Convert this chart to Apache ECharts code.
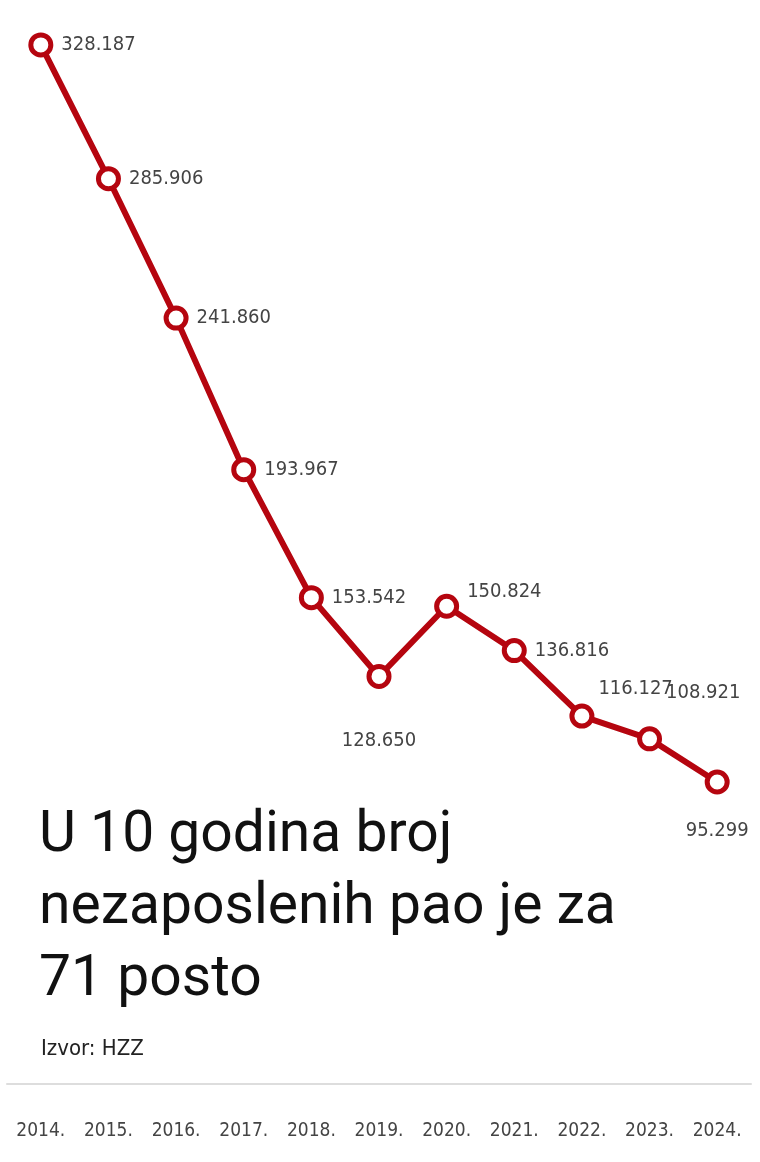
<!DOCTYPE html>
<html>
<head>
<meta charset="utf-8">
<script src="https://cdn.jsdelivr.net/npm/echarts@6/dist/echarts.min.js"></script>
<style>
html,body{margin:0;padding:0;background:#fff;}
#main{width:760px;height:1162px;}
</style>
</head>
<body>
<div id="main"></div>
<script>
var years = ['2014.', '2015.', '2016.', '2017.', '2018.', '2019.', '2020.', '2021.', '2022.', '2023.', '2024.'];
var unemployed = [328187, 285906, 241860, 193967, 153542, 128650, 150824, 136816, 116127, 108921, 95299];
var valueLabels = ['328.187', '285.906', '241.860', '193.967', '153.542', '128.650', '150.824', '136.816', '116.127', '108.921', '95.299'];

var narrow = "'Liberation Sans Narrow', 'DejaVu Sans Condensed', sans-serif";

// label placement per point
function labelFor(i) {
    var base = {show: true, formatter: valueLabels[i], color: '#444', fontSize: 20, fontFamily: narrow, position: 'right', distance: 8};
    if (i === 5) { base.position = 'bottom'; base.distance = 42; }
    if (i === 10) { base.position = 'bottom'; base.distance = 26; }
    if (i === 6) { base.offset = [0, -14]; }
    if (i === 8) { base.offset = [-4, -27]; }
    if (i === 9) { base.offset = [-4, -46]; }
    return base;
}

var myChart = echarts.init(document.getElementById('main'));
var option = {
    animation: false,
    grid: {left: 7, right: 9, top: 7.5, bottom: 78.4},
    title: [
        {
            text: 'U 10 godina broj\nnezaposlenih pao je za\n71 posto',
            left: 34, top: 796,
            textStyle: {fontSize: 57, fontWeight: 'normal', color: '#111', fontFamily: 'Roboto, sans-serif', lineHeight: 72}
        },
        {
            text: 'Izvor: HZZ',
            left: 36, top: 1033,
            textStyle: {fontSize: 22, fontWeight: 'normal', color: '#222', fontFamily: narrow}
        }
    ],
    xAxis: {
        type: 'category',
        data: years,
        boundaryGap: true,
        axisLine: {lineStyle: {color: '#ddd', width: 2}},
        axisTick: {show: false},
        axisLabel: {color: '#444', fontSize: 19, fontFamily: narrow, margin: 38, interval: 0}
    },
    yAxis: {
        type: 'value',
        min: 0,
        max: 340000,
        show: false,
        splitLine: {show: false}
    },
    series: [
        {
            type: 'line',
            data: unemployed.map(function (v, i) { return {value: v, label: labelFor(i)}; }),
            lineStyle: {color: '#b5050f', width: 6},
            symbol: 'circle',
            symbolSize: 20,
            itemStyle: {color: '#fff', borderColor: '#b5050f', borderWidth: 5},
            z: 3
        }
    ]
};
myChart.setOption(option);
</script>
</body>
</html>
